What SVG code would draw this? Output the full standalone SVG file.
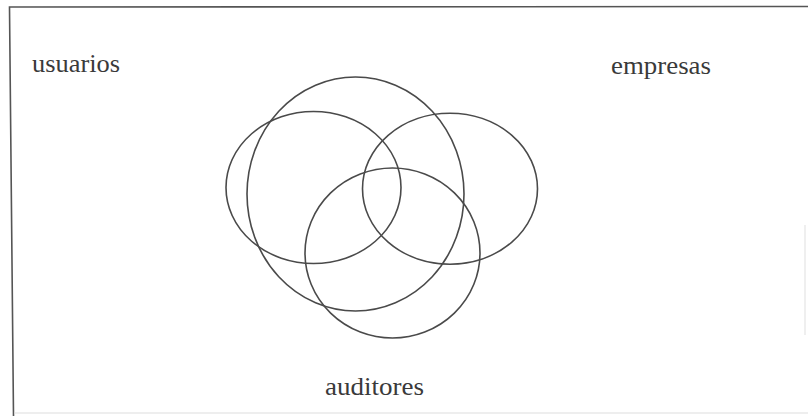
<svg xmlns="http://www.w3.org/2000/svg" width="808" height="416" viewBox="0 0 808 416">
<style>
.set{fill:none;stroke:#4a4a4a;stroke-width:1.6}
.lbl{font-size:26px;fill:#3a3a3a}
.frame{fill:none;stroke:#555;stroke-width:1.6}
</style>
<rect width="808" height="416" fill="#fff"/>
<g id="frame">
<polyline class="frame" points="808,6.5 9.5,7 13.5,416"/>
<line x1="14" y1="413" x2="808" y2="413" stroke="#ddd" stroke-width="1.2"/>
<line x1="805" y1="225" x2="805" y2="335" stroke="#e4e4e4" stroke-width="1.2"/>
</g>
<g id="usuarios">
<ellipse class="set" cx="313.5" cy="187.5" rx="87.5" ry="76"/>
<text class="lbl" font-family="'Liberation Serif', 'DejaVu Serif', serif" x="32" y="72" textLength="88" lengthAdjust="spacingAndGlyphs">usuarios</text>
</g>
<g id="empresas">
<ellipse class="set" cx="450" cy="188.7" rx="87.5" ry="75.5"/>
<text class="lbl" font-family="'Liberation Serif', 'DejaVu Serif', serif" x="611" y="74" textLength="100" lengthAdjust="spacingAndGlyphs">empresas</text>
</g>
<g id="auditores">
<ellipse class="set" cx="392.5" cy="253" rx="87.5" ry="85"/>
<text class="lbl" font-family="'Liberation Serif', 'DejaVu Serif', serif" x="325" y="395" textLength="99" lengthAdjust="spacingAndGlyphs">auditores</text>
</g>
<g id="sociedad">
<ellipse class="set" cx="355.5" cy="194" rx="108.5" ry="117"/>
</g>
<g id="connectors"></g>
</svg>
